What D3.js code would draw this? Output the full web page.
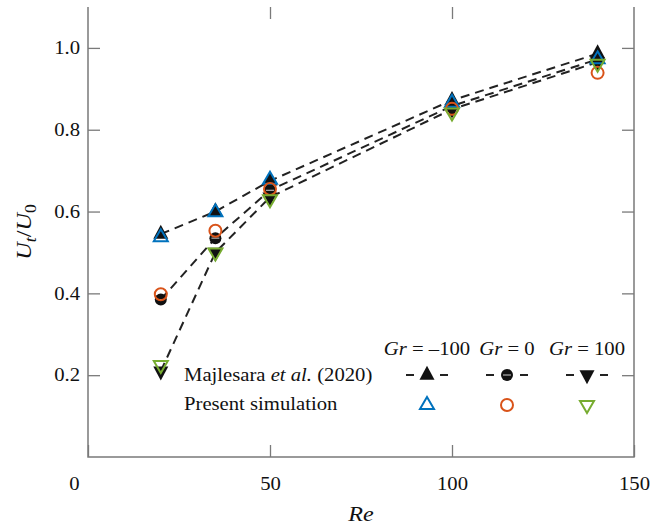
<!DOCTYPE html>
<html>
<head>
<meta charset="utf-8">
<script src="https://cdn.jsdelivr.net/npm/d3@7"></script>
<style>
  body { margin: 0; background: #fff; }
  text { font-family: "Liberation Serif", "Times New Roman", serif; fill: #111; }
</style>
</head>
<body>
<div id="chart"></div>
<script>
// Reynolds numbers
var reValues = [20, 35, 50, 100, 140];

// Majlesara et al. (2020) - black filled markers, dashed lines
var majNeg = [0.545, 0.600, 0.675, 0.872, 0.986];
var majZero = [0.385, 0.535, 0.652, 0.858, 0.972];
var majPos = [0.210, 0.500, 0.635, 0.850, 0.965];

// Present simulation - open coloured markers
var simNeg = [0.537, 0.598, 0.678, 0.866, 0.972];
var simZero = [0.398, 0.553, 0.655, 0.851, 0.939];
var simPos = [0.225, 0.500, 0.630, 0.842, 0.961];

var grLabels = ["\u2013100", "0", "100"];
var xTicks = [0, 50, 100, 150];
var yTicks = [0.2, 0.4, 0.6, 0.8, 1.0];

var svgWidth = 651;
var svgHeight = 528;
var margin = { top: 7, right: 17, bottom: 71, left: 88 };
var width = svgWidth - margin.left - margin.right;
var height = svgHeight - margin.top - margin.bottom;
var sx = 1.15; // horizontal stretch of the text

var blue = "#0072BD", orange = "#D95319", green = "#77AC30";

var svg = d3.select("#chart")
  .append("svg")
  .attr("width", svgWidth)
  .attr("height", svgHeight);

var chartGroup = svg.append("g")
  .attr("transform", `translate(${margin.left}, ${margin.top})`);

var x = d3.scaleLinear().domain([0, 150]).range([0, width]);
var y = d3.scaleLinear().domain([0, 1.1]).range([height, 0]);

// axes, ticks pointing inwards
function styleAxis(g) {
  g.select(".domain").remove();
  g.selectAll(".tick line").attr("stroke", "#7a7a7a").attr("stroke-width", 1.3);
  g.selectAll(".tick text").style("font-size", "18px").attr("fill", "#111");
}

var xAxis = chartGroup.append("g")
  .attr("transform", `translate(0, ${height})`)
  .call(d3.axisBottom(x).tickValues(xTicks).tickSizeInner(-12).tickSizeOuter(0).tickPadding(20).tickFormat(d3.format("d")))
  .call(styleAxis);
xAxis.selectAll(".tick text")
  .attr("transform", `scale(${sx},1)`)
  .attr("dx", d => d === 0 ? -14 / sx : 0);

chartGroup.append("g")
  .call(d3.axisTop(x).tickValues([50, 100]).tickSizeInner(-12).tickSizeOuter(0).tickFormat(""))
  .call(styleAxis);

var yAxis = chartGroup.append("g")
  .call(d3.axisLeft(y).tickValues(yTicks).tickSizeInner(-12).tickSizeOuter(0).tickPadding(0).tickFormat(d3.format(".1f")))
  .call(styleAxis);
yAxis.selectAll(".tick text")
  .attr("x", -8 / sx)
  .attr("transform", `scale(${sx},1)`);

chartGroup.append("g")
  .attr("transform", `translate(${width}, 0)`)
  .call(d3.axisRight(y).tickValues(yTicks).tickSizeInner(-12).tickSizeOuter(0).tickFormat(""))
  .call(styleAxis);

// box
chartGroup.append("path")
  .attr("d", `M0,0V${height}H${width}V0`)
  .attr("fill", "none")
  .attr("stroke", "#7a7a7a")
  .attr("stroke-width", 1.5);

// marker shapes
function triPath(w, h, up) {
  var s = up ? 1 : -1;
  return `M0,${-s * h * 2 / 3}L${w / 2},${s * h / 3}L${-w / 2},${s * h / 3}Z`;
}

function drawMarker(g, kind, cx, cy, filled, color) {
  if (kind === "circle") {
    g.append("circle")
      .attr("cx", cx).attr("cy", cy)
      .attr("r", 6)
      .attr("fill", filled ? "#111" : "none")
      .attr("stroke", filled ? "none" : color)
      .attr("stroke-width", 2);
    if (filled) {
      g.append("line")
        .attr("x1", cx - 4).attr("x2", cx + 4)
        .attr("y1", cy).attr("y2", cy)
        .attr("stroke", "#fff").attr("stroke-width", 0.8);
    }
  } else {
    var up = kind === "up";
    g.append("path")
      .attr("transform", `translate(${cx},${cy})`)
      .attr("d", filled ? triPath(15, 14, up) : triPath(14, 12, up))
      .attr("fill", filled ? "#111" : "none")
      .attr("stroke", filled ? "none" : color)
      .attr("stroke-width", 2)
      .attr("stroke-linejoin", "miter");
  }
}

var majSeries = [majNeg, majZero, majPos];
var simSeries = [simNeg, simZero, simPos];
var kinds = ["up", "circle", "down"];
var colors = [blue, orange, green];

var line = d3.line()
  .x((d, i) => x(reValues[i]))
  .y(d => y(d));

var linesGroup = chartGroup.append("g");
majSeries.forEach(function(s) {
  linesGroup.append("path")
    .attr("d", line(s))
    .attr("fill", "none")
    .attr("stroke", "#222")
    .attr("stroke-width", 2)
    .attr("stroke-dasharray", "9,6");
});

var marksGroup = chartGroup.append("g");
majSeries.forEach(function(s, k) {
  s.forEach(function(v, i) {
    drawMarker(marksGroup, kinds[k], x(reValues[i]), y(v), true);
  });
});
simSeries.forEach(function(s, k) {
  s.forEach(function(v, i) {
    drawMarker(marksGroup, kinds[k], x(reValues[i]), y(v), false, colors[k]);
  });
});

// legend
var legend = svg.append("g");
var legX = [427, 507, 587];

function stretchedText(g, tx, ty, anchor) {
  return g.append("text")
    .attr("transform", `translate(${tx},${ty}) scale(${sx},1)`)
    .attr("text-anchor", anchor)
    .style("font-size", "18px");
}

grLabels.forEach(function(lbl, k) {
  var t = stretchedText(legend, legX[k], 355, "middle");
  t.append("tspan").style("font-style", "italic").text("Gr");
  t.append("tspan").text(" = " + lbl);

  // dashed key
  [-1, 1].forEach(function(side) {
    legend.append("line")
      .attr("x1", legX[k] + side * 13).attr("x2", legX[k] + side * 21)
      .attr("y1", 375).attr("y2", 375)
      .attr("stroke", "#222").attr("stroke-width", 2);
  });
  drawMarker(legend, kinds[k], legX[k], 375, true);
  drawMarker(legend, kinds[k], legX[k], 405, false, colors[k]);
});

var t1 = stretchedText(legend, 184, 381, "start");
t1.append("tspan").text("Majlesara ");
t1.append("tspan").style("font-style", "italic").text("et al.");
t1.append("tspan").text(" (2020)");

stretchedText(legend, 184, 410, "start").text("Present simulation");

// axis labels
svg.append("text")
  .attr("transform", `translate(${margin.left + width / 2}, 521) scale(${sx},1)`)
  .attr("text-anchor", "middle")
  .style("font-size", "21px")
  .style("font-style", "italic")
  .text("Re");

var yl = svg.append("text")
  .attr("transform", `translate(31, ${margin.top + height / 2}) rotate(-90) scale(1.1,1)`)
  .attr("text-anchor", "middle")
  .style("font-size", "22px");
yl.append("tspan").style("font-style", "italic").text("U");
yl.append("tspan").style("font-style", "italic").style("font-size", "16px").attr("dy", 5).text("t");
yl.append("tspan").attr("dy", -5).text("/");
yl.append("tspan").style("font-style", "italic").text("U");
yl.append("tspan").style("font-size", "16px").attr("dy", 5).text("0");
</script>
</body>
</html>
